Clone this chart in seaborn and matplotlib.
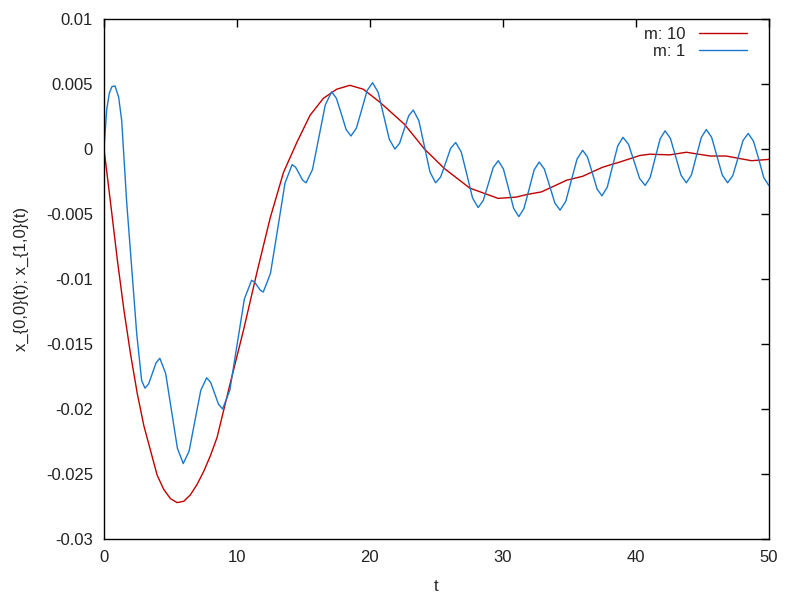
import matplotlib
matplotlib.use("Agg")
import matplotlib.pyplot as plt
from matplotlib.ticker import FuncFormatter
import seaborn as sns
import pandas as pd

# m: 10 series
t_m10 = [0, 0.5, 1, 1.5, 2, 2.5, 3, 4, 4.5, 5, 5.5, 6, 6.5, 7, 7.5, 8, 8.5,
         9.5, 10.5, 11.5, 12.5, 13.5, 14.5, 15.5, 16.5, 17.5, 18.5, 19.5,
         20.75, 22.6, 24.1, 25.6, 27.5, 28.3, 29.65, 31, 31.8, 32.9, 34.8, 36,
         37.5, 38.8, 40.3, 41.05, 42.55, 43.8, 45.6, 46.8, 48.7, 50]
x_m10 = [0, -0.0042, -0.0085, -0.0124, -0.0158, -0.0188, -0.0213, -0.0251,
         -0.0262, -0.0269, -0.0272, -0.0271, -0.0266, -0.0258, -0.0248,
         -0.0236, -0.0222, -0.0180, -0.0139,
         -0.0095, -0.0053, -0.0018, 0.0005, 0.0026, 0.0039, 0.0046, 0.0049,
         0.0046, 0.0036, 0.0019, 0.0, -0.0015, -0.0030, -0.0033, -0.0038,
         -0.0037, -0.0035, -0.0033, -0.0024, -0.0021, -0.0014, -0.0010,
         -0.0005, -0.0004, -0.00045, -0.00025, -0.00054, -0.00054, -0.0009,
         -0.0008]

# m: 1 series
t_m1 = [0, 0.2, 0.4, 0.6, 0.83, 1.1, 1.33, 1.7, 2.08, 2.46, 2.83, 3.08,
        3.36, 3.64, 3.92, 4.2, 4.64, 5.08, 5.52, 5.96, 6.4, 6.84, 7.28, 7.72,
        8.02, 8.32, 8.62, 8.92, 9.465, 10.01, 10.555, 11.1, 11.32, 11.54, 11.76,
        11.98, 12.52, 13.07, 13.61, 14.15, 14.41, 14.68, 14.94, 15.2, 15.68,
        16.16, 16.64, 17.12, 17.48, 17.85, 18.21, 18.57, 18.98, 19.39, 19.79,
        20.2, 20.62, 21.04, 21.46, 21.88, 22.23, 22.57, 22.92, 23.26, 23.68,
        24.1, 24.52, 24.94, 25.32, 25.7, 26.07, 26.45, 26.87, 27.3, 27.72,
        28.14, 28.52, 28.9, 29.27, 29.65, 30.04, 30.43, 30.81, 31.2, 31.58,
        31.97, 32.35, 32.73, 33.12, 33.52, 33.91, 34.3, 34.73, 35.15, 35.58,
        36.0, 36.36, 36.73, 37.09, 37.45, 37.85, 38.24, 38.64, 39.03, 39.45,
        39.87, 40.28, 40.7, 41.08, 41.45, 41.83, 42.2, 42.6, 43.0, 43.4, 43.8,
        44.18, 44.55, 44.93, 45.3, 45.7, 46.1, 46.5, 46.9, 47.29, 47.68, 48.06,
        48.45, 48.85, 49.25, 49.62, 50]
x_m1 = [0, 0.0030, 0.0043, 0.0048, 0.00485, 0.0040, 0.0022, -0.0040, -0.0091,
        -0.0142, -0.0178, -0.0184,
        -0.01806, -0.01725, -0.01644, -0.0161, -0.01728, -0.02015, -0.02302,
        -0.0242, -0.02324, -0.0209, -0.01856, -0.0176,
        -0.01795, -0.0188, -0.01965, -0.0200, -0.01855, -0.01505, -0.01155,
        -0.0101, -0.01023, -0.01055, -0.01087,
        -0.0110, -0.00957, -0.0061, -0.00263, -0.0012, -0.0014, -0.0019,
        -0.0024, -0.0026, -0.00158,
        0.0009, 0.00338, 0.0044, 0.0039, 0.0027, 0.0015, 0.0010, 0.0016,
        0.00305, 0.0045,
        0.0051, 0.00436, 0.00255, 0.00074, 0.0, 0.00044, 0.0015, 0.00256,
        0.0030, 0.00218,
        0.0002, -0.00178, -0.0026, -0.00215, -0.00105, 0.00005, 0.0005,
        -0.00023, -0.0020, -0.00377,
        -0.0045, -0.00397, -0.0027, -0.00143, -0.0009, -0.00153, -0.00305,
        -0.00457, -0.0052, -0.00459,
        -0.0031, -0.00161, -0.0010, -0.00154, -0.00285, -0.00416, -0.0047,
        -0.00403, -0.0024, -0.00077,
        -0.0001, -0.00061, -0.00185, -0.00309, -0.0036, -0.00294, -0.00135,
        0.00024, 0.0009, 0.00036,
        -0.00095, -0.00226, -0.0028, -0.00219, -0.0007, 0.00079, 0.0014,
        0.00082, -0.0006, -0.00202, -0.0026,
        -0.0020, -0.00055, 0.0009, 0.0015, 0.0009, -0.00055, -0.0020, -0.0026,
        -0.00205, -0.0007, 0.00065,
        0.0012, 0.0006, -0.0008, -0.0022, -0.0028]

x_ticks = [0, 10, 20, 30, 40, 50]
y_ticks = [0.01, 0.005, 0, -0.005, -0.01, -0.015, -0.02, -0.025, -0.03]

sns.set_style("white")
plt.rcParams['font.family'] = ['Liberation Sans', 'DejaVu Sans']
plt.rcParams['axes.unicode_minus'] = False

df10 = pd.DataFrame({'t': t_m10, 'x': x_m10})
df1 = pd.DataFrame({'t': t_m1, 'x': x_m1})

fig = plt.figure(figsize=(8, 6), dpi=100)
ax = fig.add_axes([0.13, 0.1017, 0.831, 0.8666])

sns.lineplot(data=df10, x='t', y='x', color='#c00000', linewidth=1.0,
             sort=False, estimator=None, label='m: 10', ax=ax)
sns.lineplot(data=df1, x='t', y='x', color='#1a78cc', linewidth=1.0,
             sort=False, estimator=None, label='m: 1', ax=ax)

ax.set_xlim(0, 50)
ax.set_ylim(-0.03, 0.01)
ax.set_xticks(x_ticks)
ax.set_yticks(y_ticks)
ax.yaxis.set_major_formatter(FuncFormatter(lambda v, p: '%g' % round(v, 4)))
ax.tick_params(direction='in', length=6, width=1, top=True, right=True,
               labelsize=12, pad=8, colors='black', labelcolor='#222222')
for s in ax.spines.values():
    s.set_color('black')
    s.set_linewidth(1)

ax.set_xlabel('t', fontsize=12, labelpad=10)
ax.set_ylabel('x_{0,0}(t); x_{1,0}(t)', fontsize=12, labelpad=12)

leg = ax.legend(loc='upper right', bbox_to_anchor=(0.985, 1.008),
                frameon=False, markerfirst=False,
                fontsize=12, handlelength=2.9, borderaxespad=0.3,
                labelspacing=0.15, handletextpad=0.8)
for txt in leg.get_texts():
    txt.set_ha('right')
leg._legend_box.align = 'right'

fig.savefig('out.png', dpi=100)
